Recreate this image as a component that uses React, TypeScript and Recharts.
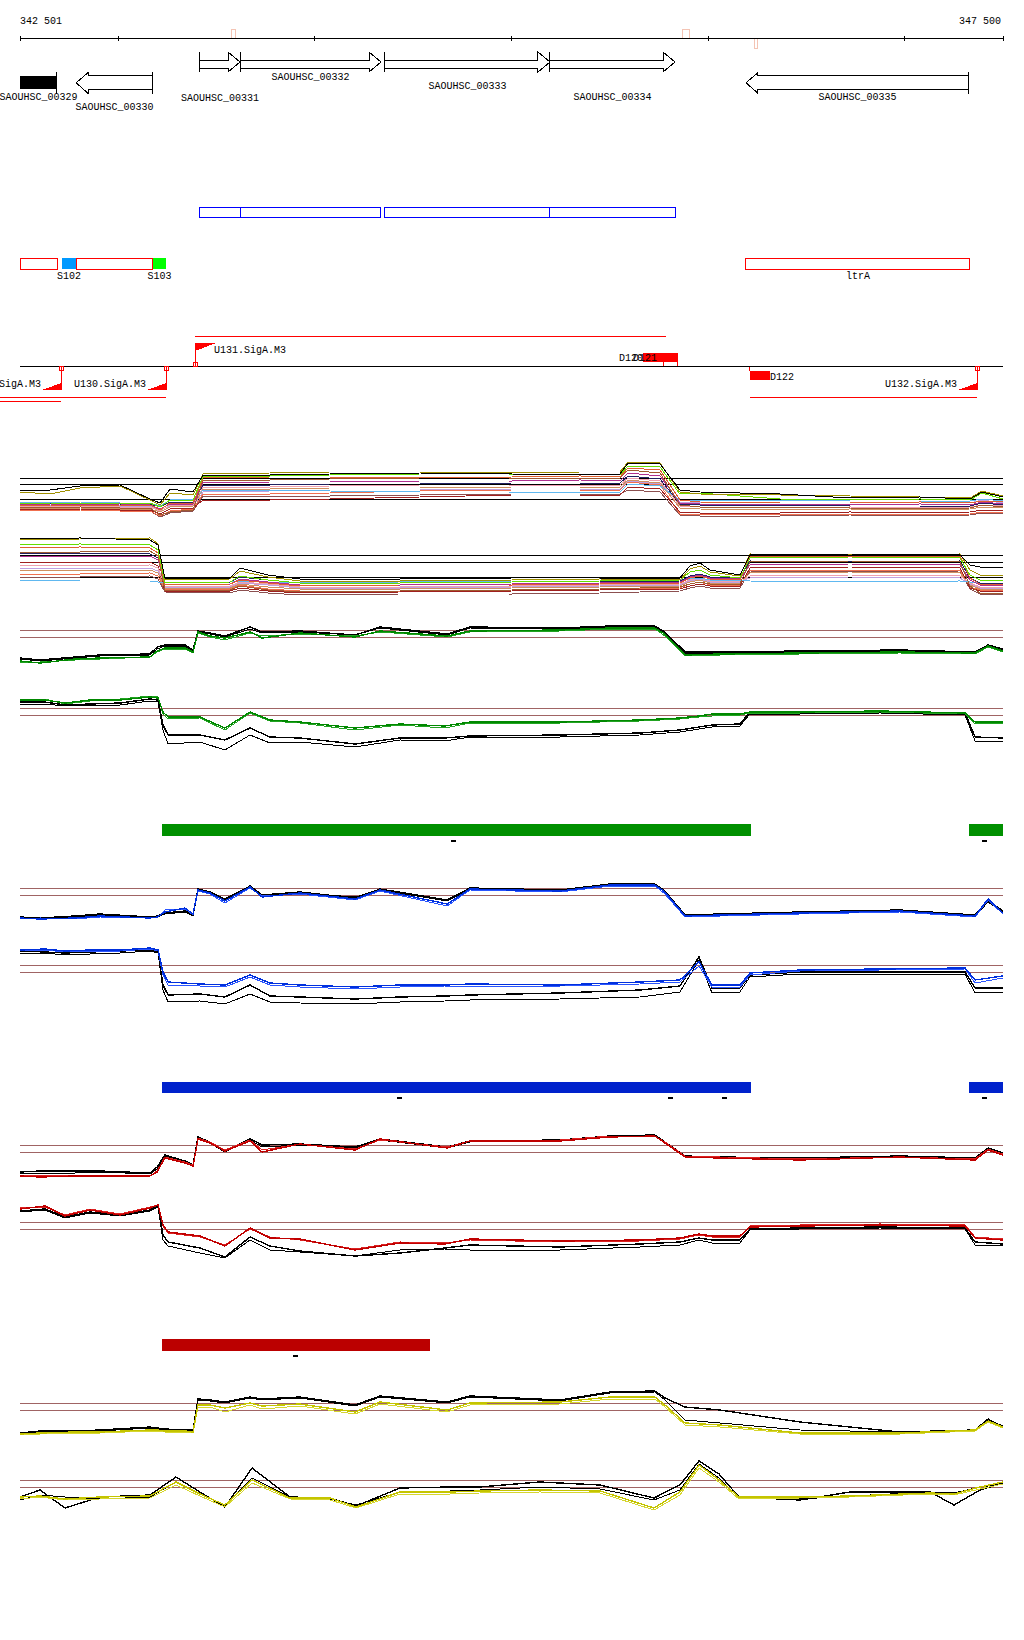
import React from 'react';
import { ComposedChart, Line, XAxis, YAxis, ReferenceLine, ReferenceArea, ReferenceDot } from 'recharts';

// ---------------- data ----------------
const X0 = 342501;
const X1 = 347500;

const RULER_TICKS = [342501, 343000, 344000, 345000, 346000, 347000, 347500];
const RULER_LABELS = [
  { pos: 342501, text: '342 501', anchor: 'start' },
  { pos: 347500, text: '347 500', anchor: 'end' },
];
const RULER_MARKS = [
  { from: 343579, to: 343599, side: 'above' },
  { from: 345869, to: 345905, side: 'above' },
  { from: 346235, to: 346254, side: 'below' },
];

const GENES = [
  { name: 'SAOUHSC_00329', start: 342501, end: 342689, strand: '-', partial: true },
  { name: 'SAOUHSC_00330', start: 342786, end: 343177, strand: '-', partial: false },
  { name: 'SAOUHSC_00331', start: 343416, end: 343620, strand: '+', partial: false },
  { name: 'SAOUHSC_00332', start: 343620, end: 344337, strand: '+', partial: false },
  { name: 'SAOUHSC_00333', start: 344357, end: 345196, strand: '+', partial: false },
  { name: 'SAOUHSC_00334', start: 345196, end: 345832, strand: '+', partial: false },
  { name: 'SAOUHSC_00335', start: 346193, end: 347327, strand: '-', partial: false },
];

const CDS_BOXES = [
  [343416, 343620],
  [343620, 344332],
  [344357, 345196],
  [345196, 345832],
];

const REGIONS = [
  { name: '', start: 342501, end: 342694 },
  { name: 'S102', start: 342715, end: 342786 },
  { name: '', start: 342786, end: 343177 },
  { name: 'S103', start: 343177, end: 343244 },
  { name: 'ltrA', start: 346193, end: 347332 },
];

const PROMOTERS = [
  { name: 'U129.SigA.M3', pos: 342710, strand: '-' },
  { name: 'U130.SigA.M3', pos: 343244, strand: '-' },
  { name: 'U131.SigA.M3', pos: 343391, strand: '+' },
  { name: 'U132.SigA.M3', pos: 347368, strand: '-' },
];

const TERMINATORS = [
  { name: 'D120', start: 345669, end: 345776, strand: '+' },
  { name: 'D121', start: 345740, end: 345847, strand: '+' },
  { name: 'D122', start: 346213, end: 346315, strand: '-' },
];

const TRANSCRIPTS = [
  { from: 343391, to: 345786, strand: '+', lane: 1 },
  { from: 342399, to: 343244, strand: '-', lane: 1 },
  { from: 342399, to: 342710, strand: '-', lane: 2 },
  { from: 346213, to: 347368, strand: '-', lane: 1 },
];

const GREEN_BARS = [[343221, 346218], [347325, 347500]];
const GREEN_DASHES = [344708, 347408];
const BLUE_BARS = [[343221, 346218], [347325, 347500]];
const BLUE_DASHES = [344433, 345807, 346086, 347408];
const RED_BARS = [[343221, 344586]];
const RED_DASHES = [343900];

// multi-sample tracks
const A_X = [342501, 342654, 342806, 343010, 343162, 343213, 343264, 343381, 343432, 343772, 344077, 344535, 345003, 345349, 345552, 345593, 345756, 345857, 345959, 346366, 346722, 347078, 347332, 347393, 347500];
const A_SERIES = [
  [40, 40, 44, 45, 31, 27, 41, 38, 55, 55, 56, 57, 56, 55, 56, 67, 66, 40, 38, 36, 32, 33, 31, 38, 33],
  [38, 36, 42, 44, 30, 25, 37, 35, 56, 57, 58, 58, 57, 58, 58, 68, 67, 38, 36, 35, 34, 33, 32, 39, 34],
  [27, 27, 26, 27, 27, 23, 30, 30, 54, 54, 55, 56, 56, 55, 55, 64, 63, 36, 37, 31, 30, 31, 30, 37, 31],
  [25, 25, 24, 25, 25, 20, 27, 27, 52, 53, 53, 52, 53, 54, 53, 62, 60, 30, 28, 27, 27, 28, 27, 29, 28],
  [23, 22, 23, 22, 22, 15, 18, 20, 50, 50, 51, 52, 52, 51, 52, 60, 57, 25, 23, 23, 22, 21, 22, 25, 23],
  [26, 26, 25, 26, 25, 21, 26, 26, 47, 48, 48, 49, 49, 50, 49, 57, 54, 27, 26, 26, 25, 26, 25, 28, 26],
  [27, 27, 27, 26, 26, 23, 28, 28, 45, 45, 46, 46, 47, 47, 47, 54, 51, 26, 25, 25, 24, 24, 24, 27, 25],
  [28, 28, 28, 27, 27, 24, 30, 31, 40, 40, 39, 38, 38, 38, 38, 46, 44, 30, 30, 30, 29, 29, 29, 31, 29],
  [24, 24, 24, 23, 23, 19, 25, 25, 43, 43, 44, 45, 45, 44, 45, 52, 49, 24, 23, 22, 23, 22, 23, 25, 24],
  [22, 22, 22, 21, 21, 18, 23, 24, 41, 41, 42, 42, 43, 43, 43, 50, 47, 22, 21, 20, 21, 20, 21, 23, 22],
  [21, 21, 21, 20, 20, 16, 21, 22, 30, 30, 31, 33, 35, 35, 35, 43, 41, 18, 17, 17, 18, 17, 18, 20, 19],
  [20, 20, 20, 19, 19, 14, 19, 21, 36, 36, 37, 39, 40, 40, 40, 48, 45, 16, 16, 16, 16, 15, 16, 18, 17],
  [21, 20, 20, 19, 19, 13, 17, 19, 34, 34, 34, 35, 36, 36, 36, 40, 38, 15, 14, 14, 15, 14, 15, 17, 16],
  [25, 25, 25, 24, 24, 20, 24, 24, 38, 39, 40, 40, 41, 41, 41, 49, 46, 28, 28, 27, 27, 28, 27, 30, 27],
];
const A_REFS = [52, 46, 31];

const B_X = [342501, 342806, 343162, 343203, 343238, 343569, 343620, 343762, 343925, 344433, 345003, 345451, 345857, 345908, 345959, 346010, 346162, 346213, 346722, 347281, 347332, 347383, 347500];
const B_SERIES = [
  [71, 72, 70, 65, 32, 32, 42, 35, 31, 31, 32, 32, 32, 44, 47, 40, 35, 55, 56, 55, 45, 43, 42],
  [70, 71, 72, 66, 30, 31, 39, 33, 29, 29, 30, 31, 30, 41, 44, 38, 34, 56, 55, 56, 40, 35, 34],
  [65, 66, 65, 60, 27, 28, 34, 30, 27, 27, 28, 29, 30, 38, 40, 35, 32, 52, 53, 52, 35, 30, 30],
  [62, 63, 62, 57, 25, 26, 30, 27, 24, 25, 25, 26, 27, 32, 34, 31, 30, 54, 54, 54, 32, 26, 25],
  [58, 58, 59, 54, 20, 20, 24, 20, 18, 19, 20, 21, 23, 26, 28, 26, 26, 48, 49, 48, 24, 17, 16],
  [54, 54, 54, 50, 26, 26, 31, 28, 25, 25, 26, 27, 28, 33, 35, 32, 31, 45, 46, 45, 30, 25, 24],
  [57, 57, 56, 52, 28, 28, 33, 30, 27, 27, 28, 28, 29, 34, 36, 33, 32, 49, 48, 49, 32, 27, 26],
  [30, 29, 29, 28, 27, 28, 29, 28, 27, 28, 29, 29, 30, 31, 32, 30, 30, 29, 28, 29, 28, 27, 27],
  [45, 44, 45, 42, 24, 24, 28, 26, 23, 23, 24, 25, 26, 30, 32, 29, 28, 34, 35, 34, 27, 23, 22],
  [40, 40, 40, 37, 22, 22, 26, 23, 21, 21, 22, 23, 24, 28, 30, 27, 27, 37, 38, 37, 25, 21, 20],
  [48, 48, 48, 44, 19, 19, 22, 19, 17, 18, 19, 20, 21, 24, 26, 24, 24, 42, 43, 42, 22, 19, 18],
  [36, 36, 37, 34, 21, 21, 25, 21, 19, 19, 20, 21, 22, 26, 28, 25, 25, 40, 40, 40, 23, 20, 19],
  [33, 33, 34, 31, 18, 17, 20, 17, 15, 16, 16, 17, 19, 22, 24, 22, 22, 39, 38, 39, 21, 16, 15],
  [42, 42, 42, 39, 23, 23, 27, 25, 22, 22, 23, 24, 25, 29, 31, 28, 28, 32, 33, 32, 26, 22, 21],
];
const B_REFS = [55, 48, 33];

// paired tracks
const TOP_X = [342501, 342603, 342781, 342908, 343162, 343198, 343238, 343340, 343381, 343406, 343467, 343543, 343671, 343732, 343925, 344205, 344332, 344673, 344789, 345247, 345501, 345730, 345781, 345883, 346061, 346468, 346976, 347358, 347424, 347500];
const BOT_X = [342501, 342628, 342730, 342857, 343010, 343162, 343203, 343228, 343254, 343416, 343543, 343671, 343772, 343925, 344205, 344433, 344662, 344789, 345247, 345654, 345857, 345954, 346020, 346162, 346213, 346468, 346874, 347307, 347358, 347500];
const J_X = [342501, 342603, 342730, 342908, 343162, 343294, 343416, 343543, 343681, 343874, 344077, 344210, 344433, 344688, 344840, 345145, 345451, 345725, 345857, 345954, 346056, 346157, 346468, 346722, 347129, 347251, 347383, 347500];

const C_GREEN_1 = [14, 12, 16, 17, 18, 24, 27, 27, 23, 43, 39, 37, 43, 37, 42, 38, 44, 39, 44, 45, 47, 47, 41, 20, 21, 22, 23, 22, 29, 24];
const C_GREEN_2 = [13, 13, 15, 16, 18, 23, 26, 26, 22, 42, 38, 35, 42, 39, 41, 39, 43, 38, 43, 44, 46, 46, 39, 19, 20, 21, 22, 21, 28, 23];
const C_BLACK_1 = [17, 15, 18, 20, 21, 28, 30, 30, 25, 44, 42, 39, 48, 43, 44, 40, 48, 41, 48, 47, 49, 49, 43, 23, 23, 24, 25, 23, 30, 26];
const C_BLACK_2 = [16, 14, 17, 19, 20, 26, 29, 29, 24, 43, 41, 38, 46, 42, 43, 40, 47, 40, 47, 46, 48, 48, 42, 22, 22, 23, 24, 23, 29, 25];
const C_REFS = [45, 38];

const D_GREEN_1 = [65, 65, 62, 65, 65, 68, 67, 53, 48, 48, 37, 53, 45, 43, 37, 41, 39, 43, 43, 45, 47, 49, 51, 51, 53, 53, 54, 52, 43, 43];
const D_GREEN_2 = [64, 66, 61, 64, 66, 69, 68, 51, 46, 47, 35, 52, 44, 42, 35, 40, 37, 42, 42, 44, 46, 48, 49, 50, 52, 52, 53, 51, 41, 42];
const D_BLACK_1 = [63, 63, 60, 61, 62, 66, 65, 40, 30, 30, 25, 37, 28, 27, 21, 27, 27, 29, 30, 32, 35, 38, 40, 41, 53, 52, 53, 52, 28, 27];
const D_BLACK_2 = [61, 61, 59, 60, 60, 64, 63, 35, 21, 23, 15, 30, 22, 23, 18, 25, 24, 28, 28, 30, 33, 36, 38, 39, 51, 51, 52, 50, 24, 23];
const D_REFS = [57, 50];

const E_BLUE_1 = [12, 11, 12, 14, 12, 13, 18, 22, 16, 40, 37, 29, 43, 33, 37, 31, 40, 26, 41, 39, 45, 45, 38, 14, 15, 17, 19, 14, 31, 17];
const E_BLUE_2 = [11, 12, 11, 13, 12, 12, 20, 21, 15, 39, 36, 27, 42, 34, 36, 30, 39, 24, 40, 38, 44, 44, 36, 13, 14, 16, 18, 13, 30, 16];
const E_BLACK_1 = [13, 12, 14, 16, 13, 14, 17, 19, 15, 41, 38, 31, 44, 35, 38, 32, 41, 30, 42, 40, 46, 46, 39, 15, 16, 18, 20, 15, 29, 19];
const E_BLACK_2 = [12, 13, 13, 15, 12, 13, 16, 18, 14, 40, 37, 30, 43, 35, 37, 33, 40, 29, 41, 39, 45, 45, 38, 14, 15, 17, 19, 14, 28, 18];
const E_REFS = [42, 35];

const F_BLUE_1 = [65, 66, 64, 65, 65, 67, 65, 43, 33, 31, 30, 40, 32, 30, 28, 30, 30, 31, 30, 33, 35, 53, 30, 30, 42, 45, 46, 47, 35, 39];
const F_BLUE_2 = [64, 65, 63, 64, 64, 66, 64, 40, 30, 29, 28, 38, 30, 28, 26, 28, 29, 29, 29, 31, 33, 49, 28, 28, 40, 44, 45, 46, 32, 37];
const F_BLACK_1 = [64, 63, 62, 63, 64, 65, 63, 30, 20, 21, 18, 30, 19, 18, 16, 18, 19, 20, 22, 25, 29, 58, 27, 27, 40, 43, 43, 43, 27, 27];
const F_BLACK_2 = [62, 62, 60, 61, 62, 64, 62, 25, 13, 14, 11, 21, 13, 12, 11, 13, 14, 15, 16, 18, 23, 55, 22, 23, 38, 41, 41, 41, 22, 23];
const F_REFS = [50, 43];

const G_RED_1 = [9, 8, 9, 9, 9, 13, 27, 22, 19, 46, 42, 34, 44, 33, 41, 35, 46, 37, 44, 44, 48, 49, 42, 28, 27, 25, 28, 25, 35, 30];
const G_RED_2 = [10, 9, 10, 10, 9, 14, 28, 23, 20, 47, 43, 35, 45, 35, 41, 36, 45, 38, 44, 45, 49, 49, 43, 29, 28, 26, 28, 26, 36, 31];
const G_BLACK_1 = [13, 14, 14, 14, 12, 18, 30, 24, 20, 48, 43, 34, 46, 40, 41, 38, 46, 38, 44, 45, 49, 50, 43, 29, 28, 27, 29, 27, 37, 32];
const G_BLACK_2 = [11, 12, 12, 13, 11, 16, 29, 23, 19, 47, 42, 33, 45, 38, 40, 37, 45, 37, 43, 44, 48, 49, 42, 28, 27, 26, 28, 26, 36, 31];
const G_REFS = [40, 33];

const H_RED_1 = [61, 64, 54, 60, 55, 62, 65, 45, 38, 34, 24, 42, 32, 31, 20, 27, 26, 31, 29, 30, 32, 36, 34, 34, 43, 44, 45, 44, 32, 30];
const H_RED_2 = [62, 63, 55, 61, 56, 63, 65, 44, 37, 33, 25, 41, 33, 30, 21, 28, 27, 30, 28, 29, 31, 35, 33, 33, 44, 45, 46, 45, 33, 31];
const H_BLACK_1 = [59, 61, 53, 58, 55, 60, 64, 35, 28, 22, 13, 33, 24, 19, 14, 17, 22, 25, 23, 26, 28, 32, 30, 30, 41, 42, 43, 42, 28, 26];
const H_BLACK_2 = [58, 60, 52, 57, 54, 59, 63, 30, 24, 17, 12, 30, 20, 18, 14, 20, 21, 20, 20, 23, 25, 30, 27, 27, 40, 41, 42, 41, 25, 24];
const H_REFS = [48, 41];

const I_BLACK_1 = [12, 14, 14, 15, 18, 17, 16, 15, 15, 46, 45, 43, 48, 46, 48, 40, 49, 43, 49, 45, 53, 54, 47, 38, 35, 23, 13, 15, 26, 18];
const I_BLACK_2 = [11, 13, 13, 14, 17, 16, 15, 14, 14, 45, 44, 42, 47, 45, 47, 39, 48, 42, 48, 44, 52, 53, 45, 25, 22, 15, 13, 15, 25, 19];
const I_YELLOW_1 = [11, 12, 13, 13, 15, 15, 14, 14, 13, 40, 40, 37, 42, 39, 41, 33, 43, 35, 42, 43, 48, 48, 40, 22, 20, 12, 12, 15, 24, 18];
const I_YELLOW_2 = [10, 11, 12, 12, 14, 14, 13, 13, 12, 38, 38, 33, 40, 36, 39, 31, 41, 33, 40, 41, 46, 46, 38, 20, 18, 11, 11, 14, 23, 17];
const I_REFS = [42, 35];

const J_BLACK_1 = [23, 30, 12, 23, 25, 43, 28, 13, 52, 23, 22, 14, 32, 33, 33, 38, 35, 22, 35, 59, 46, 23, 20, 28, 28, 15, 30, 37];
const J_BLACK_2 = [20, 25, 23, 21, 23, 38, 26, 15, 42, 23, 21, 15, 28, 29, 30, 33, 31, 20, 30, 56, 42, 22, 21, 24, 28, 27, 33, 36];
const J_YELLOW_1 = [23, 24, 21, 23, 24, 38, 26, 15, 40, 22, 22, 13, 28, 28, 29, 30, 29, 12, 28, 55, 40, 23, 23, 24, 27, 26, 33, 38];
const J_YELLOW_2 = [21, 23, 20, 21, 22, 35, 24, 13, 37, 21, 20, 12, 26, 26, 27, 28, 27, 10, 25, 52, 38, 21, 22, 23, 26, 25, 31, 36];
const J_REFS = [40, 33];

// ---------------- styles / layout ----------------
const W = 1024;
const MARGIN = { top: 0, right: 21, bottom: 0, left: 20 };
const FONT = '"Liberation Mono", "DejaVu Sans Mono", monospace';
const RED = '#ff0000';
const REF_BROWN = '#a06464';
const MULTI_COLORS = ['#000000', '#a09000', '#66dd00', '#e06030', '#a05a30', '#b03090', '#202060', '#60b8f0', '#f0a0b0', '#d09060', '#a02020', '#f07050', '#8c5050', '#c0a0e0'];
const REGION_FILL: any = { S102: '#0099ff', S103: '#00ff00' };
const GENE_ROWS: any = { '+': [48, 68], '-': [26, 48] };
const GENE_LABEL_DY: any = {
  SAOUHSC_00329: 6,
  SAOUHSC_00330: 16,
  SAOUHSC_00331: 28.5,
  SAOUHSC_00332: 8,
  SAOUHSC_00333: 17,
  SAOUHSC_00334: 28,
  SAOUHSC_00335: 6,
};

const txt = (x: number, y: number, s: string, anchor: any = 'start') => (
  <text x={x} y={y} textAnchor={anchor} fontFamily={FONT} fontSize={10} fill="#000" style={{ shapeRendering: 'auto' }}>
    {s}
  </text>
);

function Frame({ top, height, children }: any) {
  return (
    <div style={{ position: 'absolute', left: 0, top, width: W, height }}>
      <ComposedChart width={W} height={height} margin={MARGIN}>
        <XAxis type="number" dataKey="x" domain={[X0, X1]} hide allowDataOverflow />
        <YAxis type="number" domain={[0, height]} hide allowDataOverflow />
        {children}
      </ComposedChart>
    </div>
  );
}

function GeneShape(p: any) {
  const { x, y, width, height, gene } = p;
  const head = 12;
  const labelY = y + height + GENE_LABEL_DY[gene.name];
  const cx = x + width / 2;
  if (gene.partial) {
    return (
      <g>
        <rect x={x} y={y + height * 0.18} width={width} height={height * 0.61} fill="#000" />
        <line x1={x + width} y1={y} x2={x + width} y2={y + height} stroke="#000" />
        {txt(cx, labelY, gene.name, 'middle')}
      </g>
    );
  }
  if (gene.strand === '+') {
    const b1 = y + height * 0.4;
    const b2 = y + height * 0.8;
    const mid = y + height * 0.5;
    const hx = x + width - head;
    const d = `M${x},${b1} L${hx},${b1} L${hx},${y} L${x + width},${mid} L${hx},${y + height} L${hx},${b2} L${x},${b2} Z`;
    return (
      <g>
        <path d={d} fill="#fff" stroke="#000" />
        <line x1={x} y1={y} x2={x} y2={y + height} stroke="#000" />
        {txt(cx, labelY, gene.name, 'middle')}
      </g>
    );
  }
  const b1 = y + height * 0.18;
  const b2 = y + height * 0.79;
  const mid = y + height * 0.49;
  const h1 = y + height * 0.03;
  const h2 = y + height * 0.97;
  const hx = x + head;
  const d = `M${x + width},${b1} L${hx},${b1} L${hx},${h1} L${x},${mid} L${hx},${h2} L${hx},${b2} L${x + width},${b2} Z`;
  return (
    <g>
      <path d={d} fill="#fff" stroke="#000" />
      <line x1={x + width} y1={y} x2={x + width} y2={y + height} stroke="#000" />
      {txt(cx, labelY, gene.name, 'middle')}
    </g>
  );
}

function RegionShape(p: any) {
  const { x, y, width, height, region } = p;
  const fill = REGION_FILL[region.name];
  return (
    <g>
      <rect x={x} y={y} width={width} height={height} fill={fill || 'none'} stroke={fill ? 'none' : RED} />
      {region.name ? txt(x + width / 2, y + height + 10, region.name, 'middle') : null}
    </g>
  );
}

function PromoterShape(p: any) {
  const { cx, cy, prom } = p;
  if (prom.strand === '+') {
    return (
      <g>
        <line x1={cx} y1={cy} x2={cx} y2={cy - 23} stroke={RED} />
        <polygon points={`${cx},${cy - 23} ${cx + 21},${cy - 23} ${cx},${cy - 15}`} fill={RED} />
        <rect x={cx - 2} y={cy - 4} width={4} height={4} fill="none" stroke={RED} />
        {txt(cx + 19, cy - 13, prom.name)}
      </g>
    );
  }
  return (
    <g>
      <line x1={cx} y1={cy} x2={cx} y2={cy + 24} stroke={RED} />
      <polygon points={`${cx},${cy + 24} ${cx - 19},${cy + 24} ${cx},${cy + 17}`} fill={RED} />
      <rect x={cx - 2} y={cy} width={4} height={4} fill="none" stroke={RED} />
      {txt(cx - 20, cy + 21, prom.name, 'end')}
    </g>
  );
}

function TerminatorShape(p: any) {
  const { x, y, width, height, term } = p;
  if (term.strand === '+') {
    return (
      <g>
        <rect x={x} y={y} width={width} height={height} fill={RED} />
        <line x1={x + width} y1={y} x2={x + width} y2={y + height + 4} stroke={RED} />
        {txt(x, y + height - 1, term.name, 'end')}
      </g>
    );
  }
  return (
    <g>
      <rect x={x} y={y} width={width} height={height} fill={RED} />
      <line x1={x} y1={y - 5} x2={x} y2={y} stroke={RED} />
      {txt(x + width, y + height, term.name, 'start')}
    </g>
  );
}

const DashShape = (p: any) => <rect x={p.cx - 2.5} y={p.cy - 1} width={5} height={2} fill="#000" />;

function seriesData(xs: number[], vals: number[]) {
  return xs.map((x, i) => ({ x, v: vals[i] }));
}

const PAIR_TRACKS = [
  { key: 'C', top: 615, height: 60, xs: TOP_X, refs: C_REFS, lines: [[C_BLACK_2, '#000', 1], [C_BLACK_1, '#000', 1.4], [C_GREEN_2, '#22a322', 1], [C_GREEN_1, '#008800', 1.4]] },
  { key: 'D', top: 685, height: 80, xs: BOT_X, refs: D_REFS, lines: [[D_BLACK_2, '#000', 1], [D_BLACK_1, '#000', 1.4], [D_GREEN_2, '#22a322', 1], [D_GREEN_1, '#008800', 1.4]] },
  { key: 'E', top: 870, height: 60, xs: TOP_X, refs: E_REFS, lines: [[E_BLACK_2, '#000', 1], [E_BLACK_1, '#000', 1.4], [E_BLUE_2, '#2a55ff', 1], [E_BLUE_1, '#0030dd', 1.4]] },
  { key: 'F', top: 935, height: 80, xs: BOT_X, refs: F_REFS, lines: [[F_BLACK_2, '#000', 1], [F_BLACK_1, '#000', 1.4], [F_BLUE_2, '#2a55ff', 1], [F_BLUE_1, '#0030dd', 1.4]] },
  { key: 'G', top: 1125, height: 60, xs: TOP_X, refs: G_REFS, lines: [[G_BLACK_2, '#000', 1], [G_BLACK_1, '#000', 1.4], [G_RED_2, '#dd2222', 1], [G_RED_1, '#c00000', 1.4]] },
  { key: 'H', top: 1195, height: 75, xs: BOT_X, refs: H_REFS, lines: [[H_BLACK_2, '#000', 1], [H_BLACK_1, '#000', 1.4], [H_RED_2, '#dd2222', 1], [H_RED_1, '#c00000', 1.4]] },
  { key: 'I', top: 1380, height: 65, xs: TOP_X, refs: I_REFS, lines: [[I_BLACK_2, '#000', 1], [I_BLACK_1, '#000', 1.4], [I_YELLOW_2, '#d6d630', 1], [I_YELLOW_1, '#c4c400', 1.4]] },
  { key: 'J', top: 1450, height: 70, xs: J_X, refs: J_REFS, lines: [[J_BLACK_2, '#000', 1], [J_BLACK_1, '#000', 1.4], [J_YELLOW_2, '#d6d630', 1], [J_YELLOW_1, '#c4c400', 1.4]] },
];

const MULTI_TRACKS = [
  { key: 'A', top: 450, height: 80, xs: A_X, refs: A_REFS, series: A_SERIES },
  { key: 'B', top: 530, height: 80, xs: B_X, refs: B_REFS, series: B_SERIES },
];

const BAR_TRACKS = [
  { key: 'green', top: 815, height: 35, bars: GREEN_BARS, dashes: GREEN_DASHES, color: '#009000', lo: 14, hi: 26, dashV: 9 },
  { key: 'blue', top: 1075, height: 30, bars: BLUE_BARS, dashes: BLUE_DASHES, color: '#0022cc', lo: 12, hi: 23, dashV: 7 },
  { key: 'red', top: 1330, height: 35, bars: RED_BARS, dashes: RED_DASHES, color: '#bb0000', lo: 14, hi: 26, dashV: 9 },
];

export default function App() {
  return (
    <div style={{ position: 'absolute', left: 0, top: 0, width: 1024, height: 1640, background: '#fff', shapeRendering: 'crispEdges' } as any}>
      {/* ruler */}
      <Frame top={0} height={50}>
        <ReferenceLine y={12} stroke="#000" />
        {RULER_TICKS.map((t) => (
          <ReferenceLine key={'t' + t} segment={[{ x: t, y: 9 }, { x: t, y: 14 }]} stroke="#000" ifOverflow="visible" />
        ))}
        {RULER_MARKS.map((m, i) => (
          <ReferenceArea key={'m' + i} x1={m.from} x2={m.to} y1={m.side === 'above' ? 12 : 2} y2={m.side === 'above' ? 21 : 12} fill="none" stroke="#f4c4b4" fillOpacity={0} ifOverflow="visible" />
        ))}
        {RULER_LABELS.map((l) => (
          <ReferenceDot key={l.text} x={l.pos} y={26} ifOverflow="visible" shape={(p: any) => txt(p.cx + (l.anchor === 'end' ? -2 : 0), p.cy, l.text, l.anchor)} />
        ))}
      </Frame>

      {/* genes */}
      <Frame top={40} height={80}>
        {GENES.map((g) => (
          <ReferenceArea key={g.name} x1={g.start} x2={g.end} y1={GENE_ROWS[g.strand][0]} y2={GENE_ROWS[g.strand][1]} ifOverflow="visible" shape={(p: any) => <GeneShape {...p} gene={g} />} />
        ))}
      </Frame>

      {/* CDS boxes */}
      <Frame top={200} height={25}>
        {CDS_BOXES.map((b, i) => (
          <ReferenceArea key={'c' + i} x1={b[0]} x2={b[1]} y1={8} y2={18} fill="none" fillOpacity={0} stroke="#0000ff" ifOverflow="visible" />
        ))}
      </Frame>

      {/* regions */}
      <Frame top={250} height={35}>
        {REGIONS.map((r, i) => (
          <ReferenceArea key={'r' + i} x1={r.start} x2={r.end} y1={16} y2={27} ifOverflow="visible" shape={(p: any) => <RegionShape {...p} region={r} />} />
        ))}
      </Frame>

      {/* promoters / terminators */}
      <Frame top={325} height={85}>
        <ReferenceLine y={44} stroke="#000" />
        {TRANSCRIPTS.map((t, i) => {
          const lvl = t.strand === '+' ? 74 : t.lane === 1 ? 13 : 9;
          return <ReferenceLine key={'tr' + i} segment={[{ x: t.from, y: lvl }, { x: t.to, y: lvl }]} stroke={RED} ifOverflow="visible" />;
        })}
        {TERMINATORS.map((t) => (
          <ReferenceArea key={t.name} x1={t.start} x2={t.end} y1={t.strand === '+' ? 48 : 30} y2={t.strand === '+' ? 57 : 39} ifOverflow="visible" shape={(p: any) => <TerminatorShape {...p} term={t} />} />
        ))}
        {PROMOTERS.map((pr) => (
          <ReferenceDot key={pr.name} x={pr.pos} y={44} ifOverflow="visible" shape={(p: any) => <PromoterShape {...p} prom={pr} />} />
        ))}
      </Frame>

      {/* multi-sample tracks */}
      {MULTI_TRACKS.map((t) => (
        <Frame key={t.key} top={t.top} height={t.height}>
          {t.refs.map((r) => (
            <ReferenceLine key={'ref' + r} y={r} stroke="#000" />
          ))}
          {t.series
            .map((s, i) => ({ s, i }))
            .reverse()
            .map(({ s, i }) => (
              <Line key={'s' + i} data={seriesData(t.xs, s)} dataKey="v" type="linear" stroke={MULTI_COLORS[i]} strokeWidth={1} dot={false} activeDot={false} isAnimationActive={false} />
            ))}
        </Frame>
      ))}

      {/* paired tracks */}
      {PAIR_TRACKS.map((t) => (
        <Frame key={t.key} top={t.top} height={t.height}>
          {t.refs.map((r) => (
            <ReferenceLine key={'ref' + r} y={r} stroke={REF_BROWN} />
          ))}
          {t.lines.map((ln: any, i) => (
            <Line key={'l' + i} data={seriesData(t.xs, ln[0])} dataKey="v" type="linear" stroke={ln[1]} strokeWidth={ln[2]} dot={false} activeDot={false} isAnimationActive={false} />
          ))}
        </Frame>
      ))}

      {/* segmentation bars */}
      {BAR_TRACKS.map((b) => (
        <Frame key={b.key} top={b.top} height={b.height}>
          {b.bars.map((bar, i) => (
            <ReferenceArea key={'b' + i} x1={bar[0]} x2={bar[1]} y1={b.lo} y2={b.hi} fill={b.color} fillOpacity={1} stroke="none" ifOverflow="visible" />
          ))}
          {b.dashes.map((d, i) => (
            <ReferenceDot key={'d' + i} x={d} y={b.dashV} ifOverflow="visible" shape={DashShape} />
          ))}
        </Frame>
      ))}
    </div>
  );
}
